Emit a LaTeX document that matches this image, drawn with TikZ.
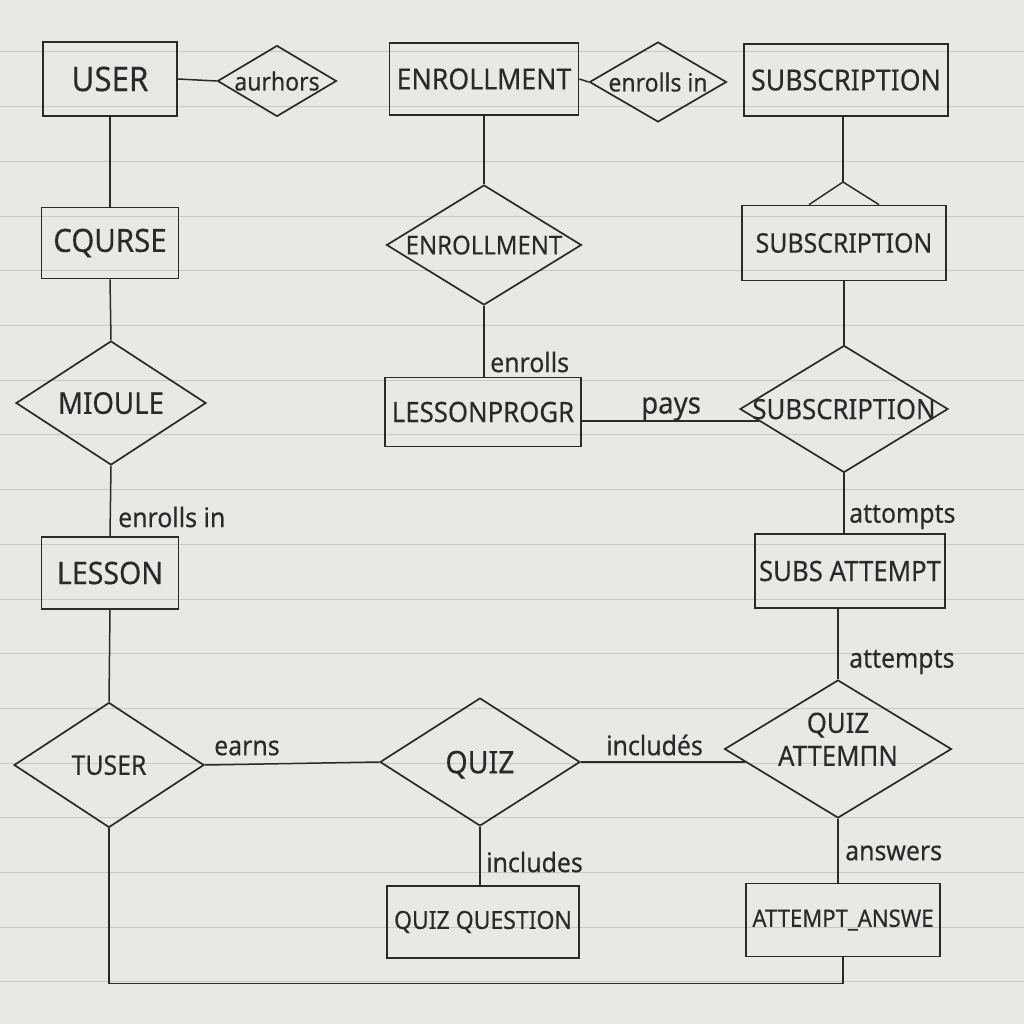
\documentclass[tikz,border=0pt]{standalone}
\usepackage{fontspec}
\setmainfont{Noto Sans}[FakeStretch=0.92,FakeBold=0.3]
\usetikzlibrary{shapes.geometric}
\definecolor{paper}{HTML}{E9E8E4}
\definecolor{ruling}{HTML}{C8C8C5}
\definecolor{inkc}{HTML}{2A2A2A}
\newcommand{\fs}[1]{\fontsize{#1}{#1}\selectfont}
\newcommand{\zb}[1]{\makebox[0pt]{\smash{\raisebox{-.5\height}{#1}}}}
\begin{document}
\begin{tikzpicture}[x=1pt,y=-1pt,
  inkline/.style={draw=inkc, line width=1.7pt},
  ent/.style={inkline, rectangle, inner sep=0pt, text=inkc},
  rel/.style={inkline, diamond, inner sep=0pt, text=inkc},
  lbl/.style={text=inkc, anchor=west, inner sep=0pt, font=\fs{27}},
  conn/.style={draw=inkc, line width=1.5pt}]
% paper
\fill[paper] (0,0) rectangle (1024,1024);
\useasboundingbox (0,0) rectangle (1024,1024);
\foreach \k in {0,...,17} {
  \draw[ruling, line width=1pt] (0,52+54.7*\k) -- (1024,52+54.7*\k);
}
% entities
\node[ent, minimum width=134, minimum height=74, font=\fs{34}] (user) at (110,79) {USER};
\node[ent, minimum width=189, minimum height=72, font=\fs{29}] (enr) at (484,79) {ENROLLMENT};
\node[ent, minimum width=204, minimum height=72, font=\fs{29}] (sub1) at (846,80) {SUBSCRIPTION};
\node[ent, minimum width=137, minimum height=71, font=\fs{32}] (course) at (110,243) {CQURSE};
\node[ent, minimum width=204, minimum height=75, font=\fs{27}] (sub2) at (844,243) {SUBSCRIPTION};
\node[ent, minimum width=196, minimum height=69, font=\fs{28}] (lp) at (483,412) {LESSONPROGR};
\node[ent, minimum width=137, minimum height=72, font=\fs{31}] (lesson) at (110,573) {LESSON};
\node[ent, minimum width=190, minimum height=74, font=\fs{28}] (sa) at (850,571) {SUBS ATTEMPT};
\node[ent, minimum width=192, minimum height=72, font=\fs{25}] (qq) at (483,922) {QUIZ QUESTION};
\node[ent, minimum width=194, minimum height=73, font=\fs{24}] (ans) at (843,920) {ATTEMPT\_ANSWE};
% relationships
\node[rel, minimum width=119, minimum height=71, font=\fs{25}] (aur) at (277,81) {\zb{aurhors}};
\node[rel, minimum width=137, minimum height=80, font=\fs{25}] (enrin) at (658,82) {\zb{enrolls in}};
\node[rel, minimum width=195, minimum height=120, font=\fs{26}] (enrd) at (484,245) {\zb{ENROLLMENT}};
\node[rel, minimum width=190, minimum height=124, font=\fs{30}] (mioule) at (111,403) {\zb{MIOULE}};
\node[rel, minimum width=208, minimum height=127, font=\fs{28}] (subd) at (844,409) {\zb{SUBSCRIPTION}};
\node[rel, minimum width=190, minimum height=125, font=\fs{27}] (tuser) at (109,765) {\zb{TUSER}};
\node[rel, minimum width=200, minimum height=128, font=\fs{31}] (quiz) at (480,762) {\zb{QUIZ}};
\node[rel, minimum width=227, minimum height=138, font=\fontsize{28}{33}\selectfont] (qatt) at (838,749)
  {\makebox[0pt]{\smash{\begin{tabular}{@{}c@{}}QUIZ\\ATTEMΠN\end{tabular}}}};
% helper points
\coordinate (apex) at (843,182);
\coordinate (tl) at ([xshift=-35pt]sub2.north);
\coordinate (tr) at ([xshift=35pt]sub2.north);
\coordinate (bot) at ([yshift=-26pt]ans.south);
% connectors
\draw[conn] (user.east) -- (aur.west);
\draw[conn] (enr.east) -- (enrin.west);
\draw[conn] (user.south) -- (course.north);
\draw[conn] (course.south) -- (mioule.north);
\draw[conn] (mioule.south) -- (lesson.north);
\draw[conn] (lesson.south) -- (tuser.north);
\draw[conn] (tuser.east) -- (quiz.west);
\draw[conn] (quiz.east) -- ([xshift=21pt,yshift=-13pt]qatt.west);
\draw[conn] (quiz.south) -- (quiz.south |- qq.north);
\draw[conn] (qatt.south) -- (qatt.south |- ans.north);
\draw[conn] (enr.south) -- (enrd.north);
\draw[conn] (enrd.south) -- (enrd.south |- lp.north);
\draw[conn] ([yshift=-9pt]lp.east) -- ([xshift=19.6pt,yshift=-12pt]subd.west);
\draw[conn] (sub1.south -| apex) -- (apex);
\draw[conn] (tl) -- (apex) -- (tr);
\draw[conn] (sub2.south) -- (subd.north);
\draw[conn] (subd.south) -- (subd.south |- sa.north);
\draw[conn] (qatt.north |- sa.south) -- (qatt.north);
\draw[conn] (tuser.south) |- (bot) -- (bot |- ans.south);
% connector labels
\node[lbl] (l1) at (118,517) {enrolls in};
\node[lbl] (l2) at (490,362) {enrolls};
\node[lbl, font=\fs{30}] (l3) at (641,409) {pays};
\node[lbl] (l4) at (849,517) {attompts};
\node[lbl] (l5) at (849,662) {attempts};
\node[lbl] (l6) at (214,748) {earns};
\node[lbl] (l7) at (606,745) {includés};
\node[lbl] (l8) at (486,862) {includes};
\node[lbl] (l9) at (845,853) {answers};
\end{tikzpicture}
\end{document}
